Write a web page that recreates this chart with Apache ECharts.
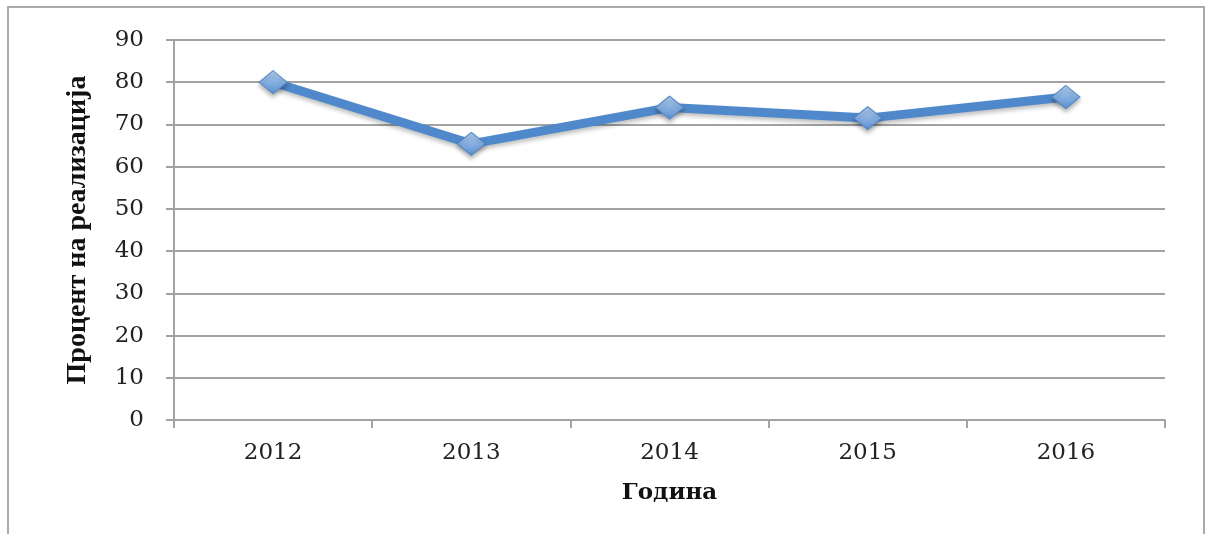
<!DOCTYPE html>
<html>
<head>
<meta charset="utf-8">
<script src="https://cdn.jsdelivr.net/npm/echarts@6/dist/echarts.min.js"></script>
<style>
  html, body { margin: 0; padding: 0; background: #fff; }
  #chart { width: 1207px; height: 534px; }
</style>
</head>
<body>
<div id="chart"></div>
<script>
const years = ['2012', '2013', '2014', '2015', '2016'];
const percent = [80, 65.4, 74, 71.5, 76.5];
const yTitle = 'Процент на реализација';
const xTitle = 'Година';

const chart = echarts.init(document.getElementById('chart'), null, { renderer: 'canvas' });

const gray = '#a3a3a3';
const option = {
  animation: false,
  backgroundColor: '#ffffff',
  grid: { left: 174, right: 42, top: 40, bottom: 114 },
  graphic: [
    {
      type: 'rect',
      shape: { x: 8, y: 7, width: 1196, height: 560 },
      style: { fill: 'none', stroke: '#aaaaaa', lineWidth: 2 },
      silent: true
    }
  ],
  xAxis: {
    type: 'category',
    data: years,
    boundaryGap: true,
    name: xTitle,
    nameLocation: 'middle',
    nameGap: 62,
    nameTextStyle: { fontFamily: '"DejaVu Serif"', fontWeight: 'bold', fontSize: 23, color: '#111' },
    axisLine: { lineStyle: { color: gray, width: 2 } },
    axisTick: { show: true, length: 8, lineStyle: { color: gray, width: 2 } },
    axisLabel: { margin: 22, fontFamily: '"DejaVu Serif"', fontSize: 23, color: '#222' }
  },
  yAxis: {
    type: 'value',
    min: 0,
    max: 90,
    interval: 10,
    name: yTitle,
    nameLocation: 'middle',
    nameGap: 82,
    nameTextStyle: { fontFamily: '"Liberation Serif"', fontWeight: 'bold', fontSize: 28, color: '#111' },
    axisLine: { show: true, lineStyle: { color: gray, width: 2 } },
    axisTick: { show: true, length: 8, lineStyle: { color: gray, width: 2 } },
    axisLabel: { margin: 30, fontFamily: '"DejaVu Serif"', fontSize: 23, color: '#222' },
    splitLine: { lineStyle: { color: gray, width: 2 } }
  },
  series: [
    {
      type: 'line',
      data: percent,
      symbol: 'diamond',
      symbolSize: [28, 23],
      lineStyle: {
        color: '#4f89cb',
        width: 9,
        shadowColor: 'rgba(0,0,0,0.25)',
        shadowBlur: 4,
        shadowOffsetY: 3
      },
      itemStyle: {
        color: new echarts.graphic.LinearGradient(0, 0, 0, 1, [
          { offset: 0, color: '#b3d0f2' },
          { offset: 1, color: '#5a8fd0' }
        ]),
        borderColor: '#4f86c6',
        borderWidth: 1,
        shadowColor: 'rgba(0,0,0,0.3)',
        shadowBlur: 4,
        shadowOffsetY: 3
      }
    }
  ]
};

chart.setOption(option);
</script>
</body>
</html>
